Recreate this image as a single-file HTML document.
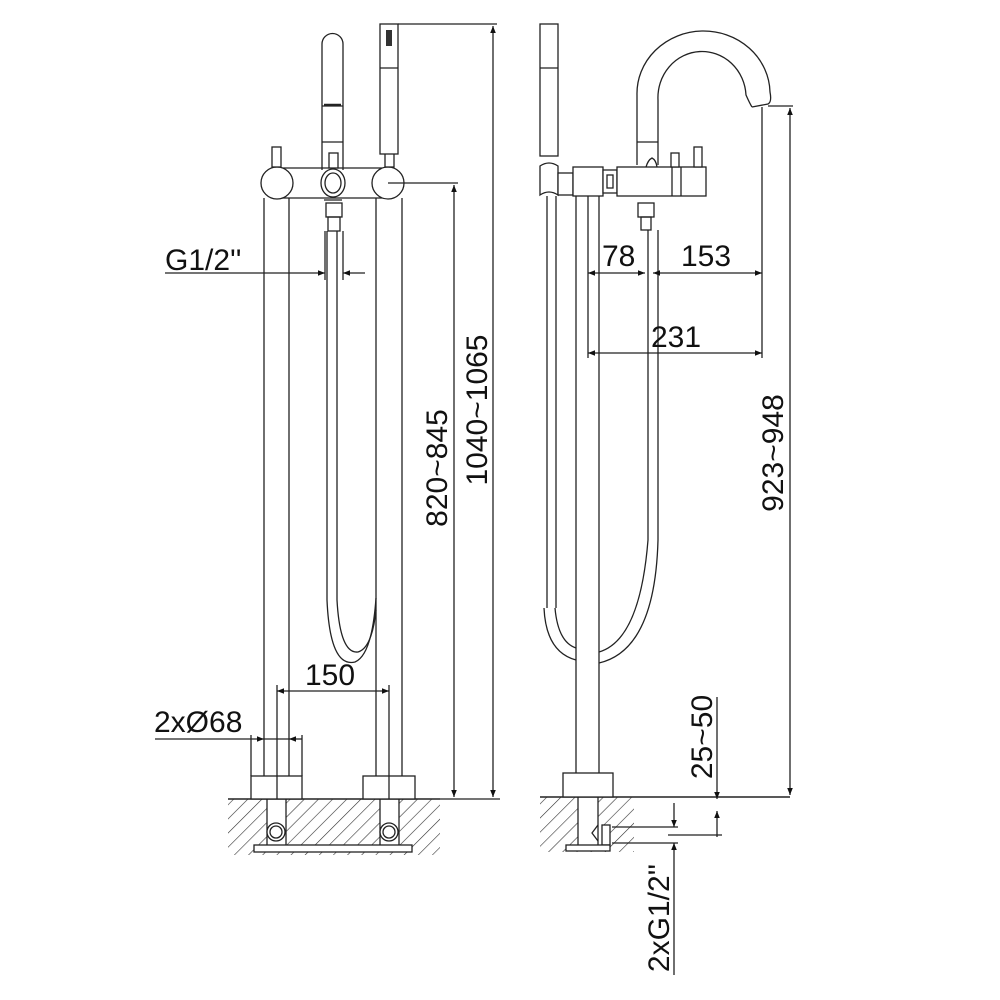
<!DOCTYPE html>
<html><head><style>
html,body{margin:0;padding:0;background:#fff}
svg{display:block}
text{font-family:"Liberation Sans",sans-serif;font-size:30px;fill:#111}
</style></head><body>
<svg width="1000" height="1000" viewBox="0 0 1000 1000" xmlns="http://www.w3.org/2000/svg">
<defs>
<pattern id="h" width="10" height="10" patternUnits="userSpaceOnUse" patternTransform="rotate(45)">
<line x1="0" y1="0" x2="0" y2="10" stroke="#333" stroke-width="1.2"/>
</pattern>
<marker id="a" viewBox="0 0 10 10" refX="10" refY="5" markerWidth="12" markerHeight="7" orient="auto-start-reverse" markerUnits="userSpaceOnUse">
<path d="M0,1 L10,5 L0,9 z" fill="#111"/>
</marker>
</defs>
<g fill="none" stroke="#222" stroke-width="1.3">
<rect x="228" y="799" width="212" height="56" fill="url(#h)" stroke="none"/>
<rect x="267" y="799" width="19" height="46" fill="#fff" stroke="none"/>
<rect x="380" y="799" width="19" height="46" fill="#fff" stroke="none"/>
<line x1="228" y1="799" x2="440" y2="799" stroke-width="1.6"/>
<line x1="267" y1="799" x2="267" y2="845"/><line x1="286" y1="799" x2="286" y2="845"/>
<line x1="380" y1="799" x2="380" y2="845"/><line x1="399" y1="799" x2="399" y2="845"/>
<circle cx="276" cy="832" r="9" fill="#fff"/><circle cx="276" cy="832" r="6"/>
<circle cx="389" cy="832" r="9" fill="#fff"/><circle cx="389" cy="832" r="6"/>
<rect x="254" y="845" width="158" height="7" fill="#fff"/>
<rect x="251" y="776" width="51" height="23" fill="#fff"/>
<rect x="363" y="776" width="52" height="23" fill="#fff"/>
<line x1="264" y1="198" x2="264" y2="776"/><line x1="289" y1="198" x2="289" y2="776"/>
<line x1="376" y1="198" x2="376" y2="776"/><line x1="402" y1="198" x2="402" y2="776"/>
<line x1="277" y1="168" x2="388" y2="168"/><line x1="277" y1="198" x2="388" y2="198"/>
<circle cx="277" cy="183" r="16" fill="#fff"/>
<circle cx="388" cy="183" r="16" fill="#fff"/>
<ellipse cx="333" cy="183" rx="12" ry="14" fill="#fff"/><ellipse cx="333" cy="183" rx="8" ry="10"/>
<rect x="272" y="147" width="9" height="20" fill="#fff"/>
<rect x="385" y="147" width="9" height="20" fill="#fff"/>
<path d="M322,170 L322,44 A10.5,10.5 0 0 1 343,44 L343,170"/>
<line x1="322" y1="106" x2="343" y2="106"/><line x1="324" y1="105" x2="341" y2="105" stroke-width="2.5"/>
<line x1="322" y1="142" x2="343" y2="142"/>
<rect x="329" y="153" width="9" height="15" fill="#fff"/>
<rect x="380" y="24" width="18" height="130" fill="#fff"/>
<rect x="386" y="30" width="6" height="16" fill="#333" stroke="none"/>
<line x1="380" y1="68" x2="398" y2="68"/>
<rect x="326" y="203" width="16" height="14"/>
<rect x="328" y="217" width="12" height="14"/>
<path d="M324,200 L342,200"/>
<path d="M327,231 L327,600 Q330,668 355,662 Q372,655 376,598"/>
<path d="M337,231 L337,600 Q340,654 358,652 Q372,648 376,610"/>
<line x1="388" y1="183" x2="458" y2="183"/>
<line x1="454" y1="185" x2="454" y2="797" marker-start="url(#a)" marker-end="url(#a)"/>
<line x1="398" y1="24" x2="497" y2="24"/>
<line x1="493" y1="26" x2="493" y2="797" marker-start="url(#a)" marker-end="url(#a)"/>
<line x1="440" y1="799" x2="500" y2="799"/>
<line x1="165" y1="273" x2="325" y2="273" marker-end="url(#a)"/>
<line x1="365" y1="273" x2="343" y2="273" marker-end="url(#a)"/>
<line x1="325" y1="231" x2="325" y2="280"/><line x1="343" y1="231" x2="343" y2="280"/>
<line x1="277" y1="685" x2="277" y2="799"/><line x1="389" y1="685" x2="389" y2="799"/>
<line x1="277" y1="691" x2="389" y2="691" marker-start="url(#a)" marker-end="url(#a)"/>
<line x1="251" y1="735" x2="251" y2="776"/><line x1="302" y1="735" x2="302" y2="776"/>
<line x1="155" y1="739" x2="264" y2="739" marker-end="url(#a)"/>
<line x1="302" y1="739" x2="289" y2="739" marker-end="url(#a)"/>
<line x1="264" y1="739" x2="289" y2="739"/>
<rect x="540" y="797" width="94" height="55" fill="url(#h)" stroke="none"/>
<rect x="578" y="797" width="20" height="48" fill="#fff" stroke="none"/>
<rect x="598" y="825" width="12" height="20" fill="#fff" stroke="none"/>
<line x1="540" y1="797" x2="790" y2="797" stroke-width="1.6"/>
<line x1="578" y1="797" x2="578" y2="845"/><line x1="598" y1="797" x2="598" y2="845"/>
<rect x="602" y="825" width="8" height="20" fill="#fff"/>
<path d="M598,825 L592,833 L598,841"/>
<rect x="566" y="845" width="44" height="6" fill="#fff"/>
<rect x="563" y="773" width="50" height="24" fill="#fff"/>
<line x1="576" y1="196" x2="576" y2="773"/><line x1="599" y1="196" x2="599" y2="773"/>
<line x1="547" y1="196" x2="547" y2="608"/><line x1="556" y1="196" x2="556" y2="608"/>
<path d="M544,608 Q546,652 576,660"/>
<path d="M555,608 Q558,642 576,648"/>
<path d="M599,652 Q640,640 648,540 L648,230"/>
<path d="M599,663 Q655,650 658,540 L658,230"/>
<rect x="540" y="24" width="18" height="132" fill="#fff"/>
<line x1="540" y1="68" x2="558" y2="68"/>
<path d="M540,166 Q549,160 558,166 L558,195 Q549,189 540,195 z" fill="#fff"/>
<rect x="558" y="173" width="15" height="22" fill="#fff"/>
<rect x="573" y="167" width="30" height="29" fill="#fff"/>
<rect x="603" y="170" width="14" height="23" fill="#fff"/>
<rect x="607" y="175" width="6" height="13"/>
<rect x="617" y="167" width="89" height="29" fill="#fff"/>
<line x1="672" y1="167" x2="672" y2="196"/><line x1="681" y1="167" x2="681" y2="196"/>
<rect x="671" y="153" width="8" height="14" fill="#fff"/>
<rect x="694" y="147" width="8" height="20" fill="#fff"/>
<rect x="638" y="203" width="16" height="14"/>
<rect x="641" y="217" width="10" height="13"/>
<path d="M637,165 L637,95 A66,62 0 0 1 770,92 Q772,102 768,104 L752,107"/>
<path d="M658,165 L658,100 A44,46 0 0 1 746,95 Q750,104 752,107"/>
<line x1="637" y1="142" x2="658" y2="142"/>
<path d="M646,167 Q648,160 652,158 Q656,160 657,167"/>
<line x1="768" y1="106" x2="793" y2="106"/>
<line x1="790" y1="108" x2="790" y2="795" marker-start="url(#a)" marker-end="url(#a)"/>
<line x1="762" y1="107" x2="762" y2="358"/>
<line x1="588" y1="196" x2="588" y2="358"/>
<line x1="588" y1="273" x2="645" y2="273" marker-start="url(#a)" marker-end="url(#a)"/>
<line x1="653" y1="273" x2="762" y2="273" marker-start="url(#a)" marker-end="url(#a)"/>
<line x1="588" y1="353" x2="762" y2="353" marker-start="url(#a)" marker-end="url(#a)"/>
<line x1="717" y1="697" x2="717" y2="799" marker-end="url(#a)"/>
<line x1="717" y1="837" x2="717" y2="811" marker-end="url(#a)"/>
<line x1="668" y1="835" x2="722" y2="835"/>
<line x1="612" y1="827" x2="678" y2="827"/>
<line x1="612" y1="843" x2="678" y2="843"/>
<line x1="674" y1="803" x2="674" y2="827" marker-end="url(#a)"/>
<line x1="674" y1="975" x2="674" y2="843" marker-end="url(#a)"/>
</g>
<g>
<text x="165" y="270">G1/2''</text>
<text x="305" y="685">150</text>
<text x="154" y="732">2xØ68</text>
<text transform="translate(447,468) rotate(-90)" text-anchor="middle">820~845</text>
<text transform="translate(487,410) rotate(-90)" text-anchor="middle">1040~1065</text>
<text x="602" y="266">78</text>
<text x="681" y="266">153</text>
<text x="651" y="347">231</text>
<text transform="translate(783,453) rotate(-90)" text-anchor="middle">923~948</text>
<text transform="translate(712,737) rotate(-90)" text-anchor="middle">25~50</text>
<text transform="translate(669,918) rotate(-90)" text-anchor="middle">2xG1/2''</text>
</g>
</svg>
</body></html>
